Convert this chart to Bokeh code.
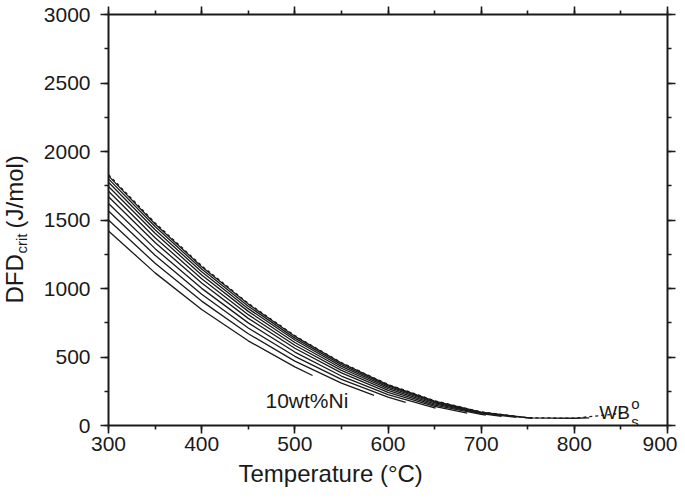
import math
from bokeh.plotting import figure
from bokeh.models import LinearAxis, SingleIntervalTicker, Range1d, Label, Title
from bokeh.layouts import row
from bokeh.core.properties import value
from bokeh.embed import file_html
from bokeh.resources import INLINE

# ---- data (temperature in degC, DFD_crit in J/mol) ----
temp_wbs = [300, 350, 400, 450, 500, 550, 600, 650, 700, 750, 800, 850, 855]
dfd_wbs = [1831, 1479, 1166, 892, 656, 459, 300, 181, 99, 57, 53, 88, 93]

temp_c1 = [300, 350, 400, 450, 500, 550, 600, 650, 700, 750, 800, 816]
dfd_c1 = [1822, 1471, 1159, 886, 651, 455, 297, 178, 98, 56, 53, 55]
temp_c2 = [300, 350, 400, 450, 500, 550, 600, 650, 700, 755]
dfd_c2 = [1800, 1452, 1142, 871, 638, 444, 289, 172, 94, 53]
temp_c3 = [300, 350, 400, 450, 500, 550, 600, 650, 700, 738]
dfd_c3 = [1775, 1429, 1122, 853, 624, 432, 280, 166, 91, 59]
temp_c4 = [300, 350, 400, 450, 500, 550, 600, 650, 700, 722]
dfd_c4 = [1745, 1403, 1099, 833, 606, 418, 269, 158, 86, 67]
temp_c5 = [300, 350, 400, 450, 500, 550, 600, 650, 700, 705]
dfd_c5 = [1710, 1371, 1071, 809, 586, 402, 256, 149, 81, 76]
temp_c6 = [300, 350, 400, 450, 500, 550, 600, 650, 685]
dfd_c6 = [1670, 1336, 1040, 782, 564, 384, 242, 140, 91]
temp_c7 = [300, 350, 400, 450, 500, 550, 600, 651]
dfd_c7 = [1620, 1291, 1001, 749, 536, 361, 226, 127]
temp_c8 = [300, 350, 400, 450, 500, 550, 600, 619]
dfd_c8 = [1565, 1242, 958, 712, 505, 337, 207, 168]
temp_c9 = [300, 350, 400, 450, 500, 550, 585]
dfd_c9 = [1500, 1184, 908, 670, 470, 309, 220]
temp_ni10 = [300, 350, 400, 450, 500, 519]
dfd_ni10 = [1420, 1114, 847, 618, 428, 365]

solid_curves = [
    (temp_c1, dfd_c1), (temp_c2, dfd_c2), (temp_c3, dfd_c3), (temp_c4, dfd_c4),
    (temp_c5, dfd_c5), (temp_c6, dfd_c6), (temp_c7, dfd_c7), (temp_c8, dfd_c8),
    (temp_c9, dfd_c9), (temp_ni10, dfd_ni10),
]

x_title = "Temperature (°C)"
y_title_main = "DFD"
y_title_sub = "crit"
y_title_unit = "(J/mol)"
FONT = "Liberation Sans"
INK = "#1a1a1a"

CANVAS_H = 498
YLAB_W = 40

p = figure(frame_width=559, frame_height=411,
           x_range=Range1d(300, 900), y_range=Range1d(0, 3000),
           output_backend="svg", toolbar_location=None,
           x_axis_type=None, y_axis_type=None,
           min_border_left=106 - YLAB_W, min_border_right=10, min_border_top=14,
           min_border_bottom=CANVAS_H - 14 - 411)
p.outline_line_color = None
p.background_fill_color = "white"
p.border_fill_color = "white"


def style_axis(ax, show_labels, standoff=3):
    ax.axis_line_width = 2
    ax.axis_line_color = INK
    ax.major_tick_line_width = 1.6
    ax.minor_tick_line_width = 1.6
    ax.major_tick_line_color = INK
    ax.minor_tick_line_color = INK
    ax.major_tick_in = 0
    ax.major_tick_out = 8
    ax.minor_tick_in = 0
    ax.minor_tick_out = 4
    if show_labels:
        ax.major_label_text_font = FONT
        ax.major_label_text_font_size = "21px"
        ax.major_label_text_color = INK
        ax.major_label_standoff = standoff
    else:
        ax.major_label_text_font_size = "1px"
        ax.major_label_text_color = None
        ax.major_label_standoff = 0
        ax.axis_label_standoff = 0


xb = LinearAxis(ticker=SingleIntervalTicker(interval=100, num_minor_ticks=2))
style_axis(xb, True, 3)
p.add_layout(xb, "below")

xt = LinearAxis(ticker=SingleIntervalTicker(interval=100, num_minor_ticks=2))
style_axis(xt, False)
p.add_layout(xt, "above")

yl = LinearAxis(ticker=SingleIntervalTicker(interval=500, num_minor_ticks=2))
style_axis(yl, True, 10)
p.add_layout(yl, "left")

yr = LinearAxis(ticker=SingleIntervalTicker(interval=500, num_minor_ticks=2))
style_axis(yr, False)
p.add_layout(yr, "right")

# x-axis title, placed left of centre as in the reference
p.add_layout(Title(text=x_title, align="left", offset=130, standoff=8,
                   text_font=FONT, text_font_size="24px", text_font_style="normal",
                   text_color=INK), "below")

for tx, vy in solid_curves:
    p.line(tx, vy, line_color=INK, line_width=1.3)
p.line(temp_wbs, dfd_wbs, line_color=INK, line_width=1.3, line_dash="3 3")

# curve annotations
p.add_layout(Label(x=468.5, y=182, text="10wt%Ni", text_font=FONT, text_font_size="21px",
                   text_color=INK, text_baseline="alphabetic", text_align="left"))
p.add_layout(Label(x=826.8, y=95, text="WB", text_font=FONT, text_font_size="19px",
                   text_color=INK, text_baseline="alphabetic", text_align="left"))
p.add_layout(Label(x=861, y=161, text="o", text_font=FONT, text_font_size="15px",
                   text_color=INK, text_baseline="alphabetic", text_align="left"))
p.add_layout(Label(x=861, y=29, text="s", text_font=FONT, text_font_size="15px",
                   text_color=INK, text_baseline="alphabetic", text_align="left"))

# narrow strip on the left that carries the y-axis title DFD_crit (J/mol)
ylab = figure(frame_width=YLAB_W, frame_height=CANVAS_H,
              x_range=Range1d(0, YLAB_W), y_range=Range1d(0, CANVAS_H),
              output_backend="svg", toolbar_location=None,
              x_axis_type=None, y_axis_type=None,
              min_border_left=0, min_border_right=0, min_border_top=0, min_border_bottom=0)
ylab.outline_line_color = None
ylab.background_fill_color = "white"
ylab.border_fill_color = "white"
ylab.text(x=[14], y=[CANVAS_H - 289], text=[y_title_main], angle=math.pi / 2,
          text_font=value(FONT), text_font_size="24px", text_color=INK,
          text_align="left", text_baseline="alphabetic")
ylab.text(x=[21], y=[CANVAS_H - 239], text=[y_title_sub], angle=math.pi / 2,
          text_font=value(FONT), text_font_size="15px", text_color=INK,
          text_align="left", text_baseline="alphabetic")
ylab.text(x=[14], y=[CANVAS_H - 214], text=[y_title_unit], angle=math.pi / 2,
          text_font=value(FONT), text_font_size="24px", text_color=INK,
          text_align="left", text_baseline="alphabetic")

layout = row(ylab, p)
open("out.html", "w").write(file_html(layout, INLINE))
